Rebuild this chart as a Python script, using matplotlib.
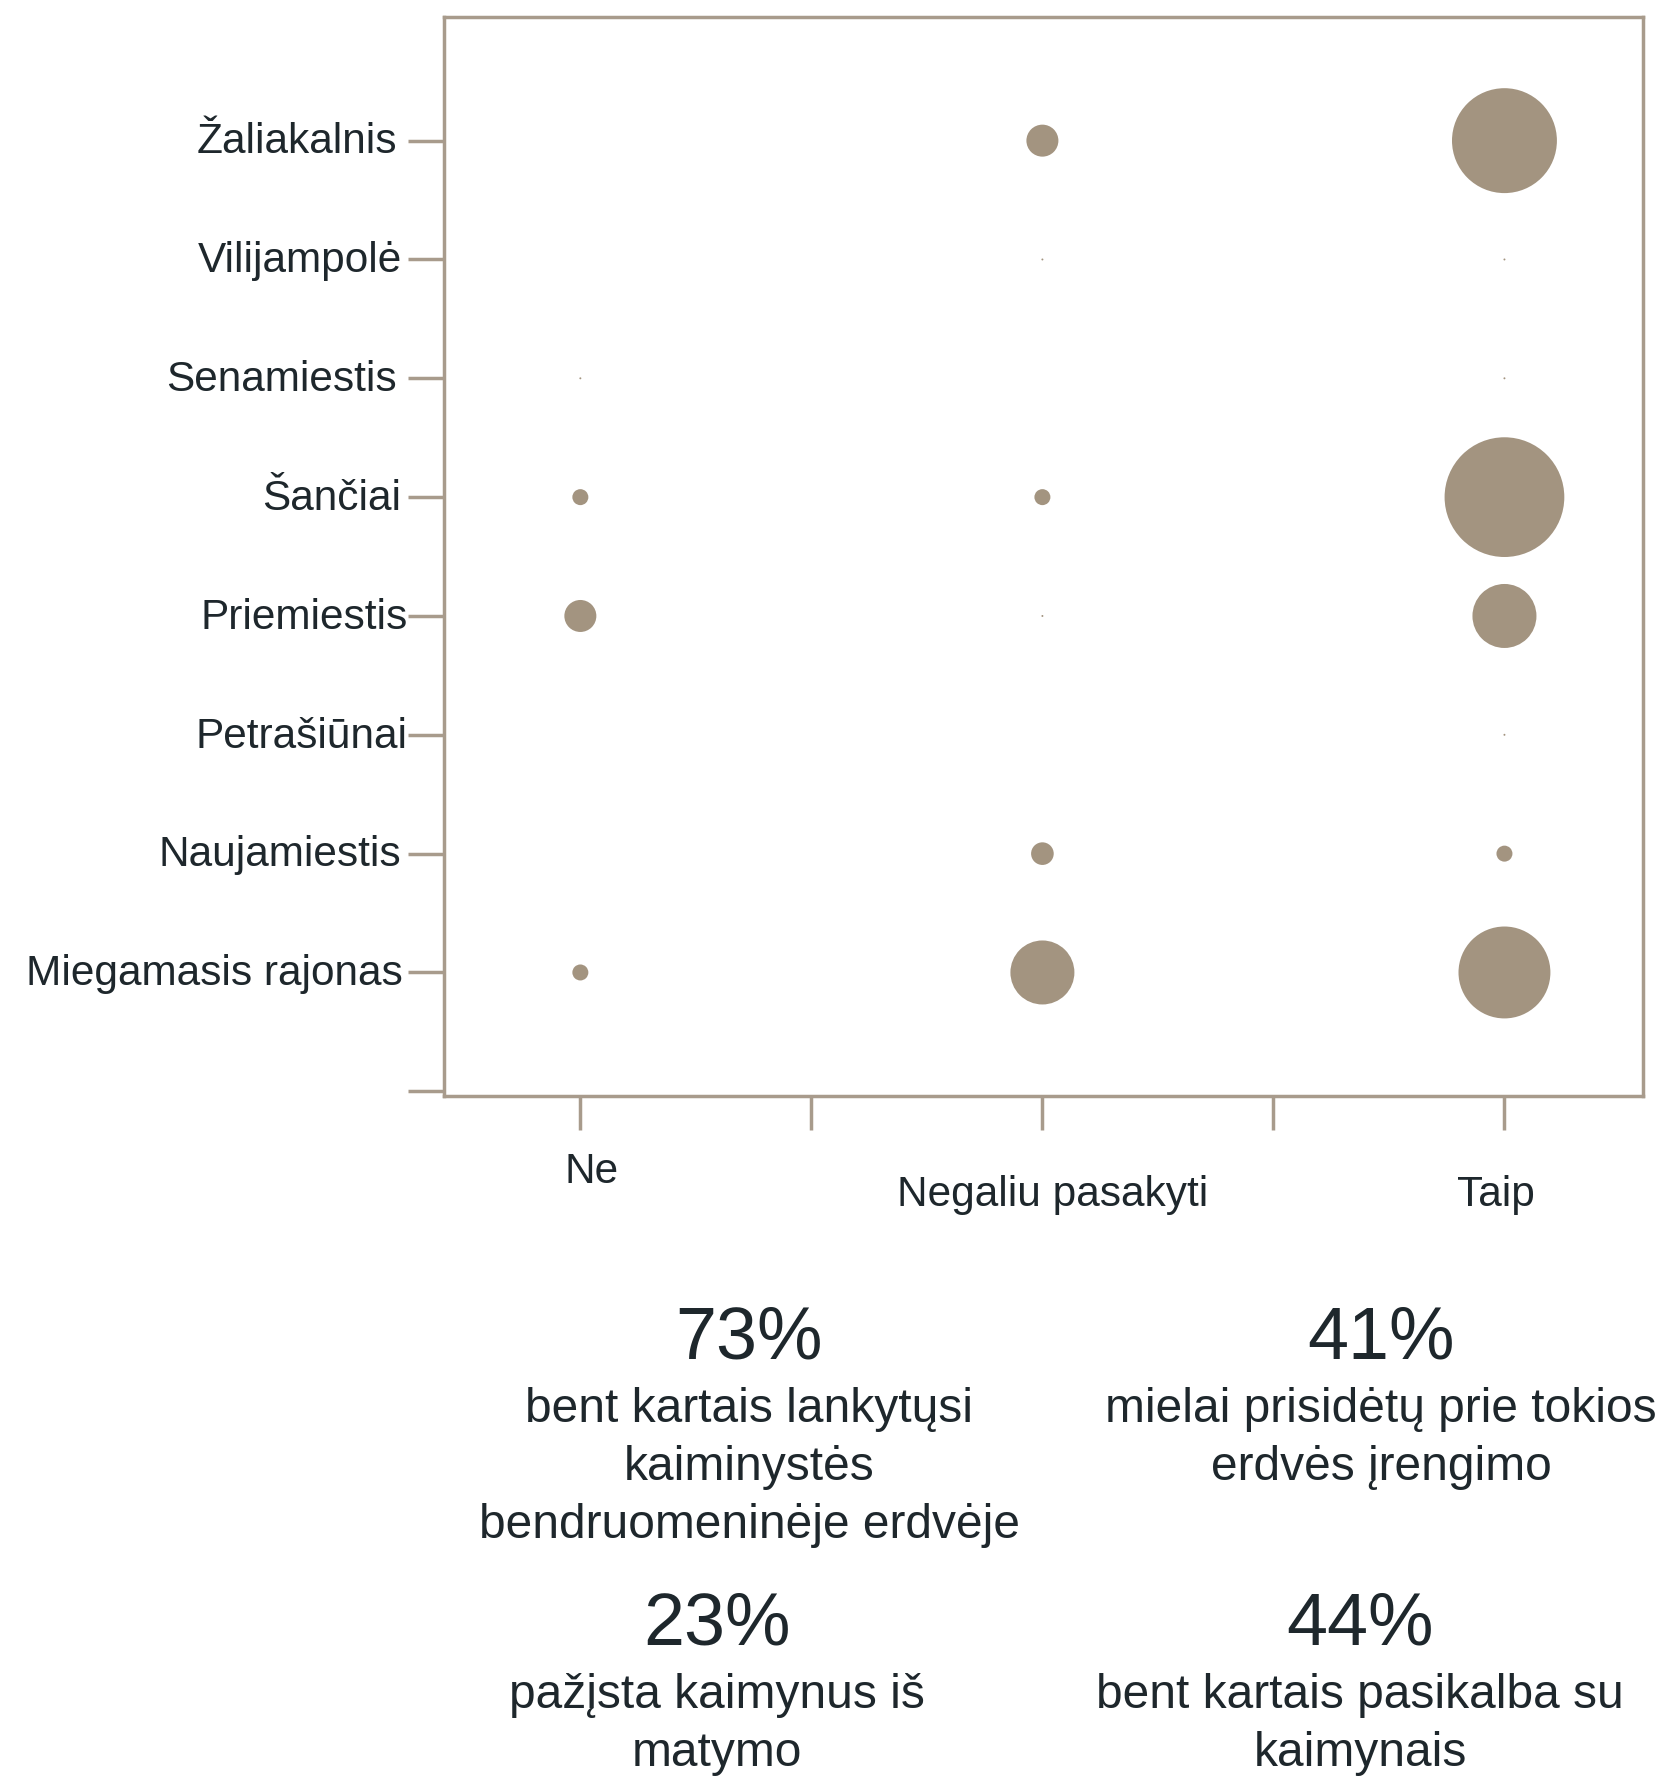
import numpy as np
import matplotlib
matplotlib.use('Agg')
import matplotlib.pyplot as plt
from matplotlib.transforms import ScaledTranslation

plt.rcParams['font.family'] = ['Liberation Sans', 'DejaVu Sans']

# data
districts = ['Žaliakalnis', 'Vilijampolė', 'Senamiestis', 'Šančiai',
             'Priemiestis', 'Petrašiūnai', 'Naujamiestis', 'Miegamasis rajonas']
answers = ['Ne', 'Negaliu pasakyti', 'Taip']
ne = [np.nan, np.nan, 0, 1, 4, np.nan, np.nan, 1]
negaliu = [4, 0, np.nan, 1, 0, np.nan, 2, 16]
taip = [43, 0, 0, 56, 16, 0, 1, 33]

stat_values = ['73%', '41%', '23%', '44%']
stat_texts = [
    ['bent kartais lankytųsi', 'kaiminystės', 'bendruomeninėje erdvėje'],
    ['mielai prisidėtų prie tokios', 'erdvės įrengimo'],
    ['pažįsta kaimynus iš', 'matymo'],
    ['bent kartais pasikalba su', 'kaimynais'],
]

dot_color = '#a39480'
line_color = '#a89b8c'
text_color = '#1e272c'

fig = plt.figure(figsize=(16.6, 17.77), dpi=100)
ax = fig.add_axes([0.2675, 0.3832, 0.7223, 0.6072])

ypos = np.arange(len(districts), 0, -1)
for xi, series in zip([0, 2, 4], [ne, negaliu, taip]):
    vals = np.array(series, dtype=float)
    mask = ~np.isnan(vals)
    sizes = np.where(vals[mask] > 0, 132.7 * vals[mask], 2)
    ax.scatter(np.full(mask.sum(), xi), ypos[mask], s=sizes,
               color=dot_color, edgecolors='none', zorder=3)

ax.set_xlim(-0.59, 4.6)
ax.set_ylim(-0.04, 9.04)

ax.set_yticks(list(ypos) + [0])
ax.set_yticklabels(districts + [''])
ax.set_xticks([0, 1, 2, 3, 4])
ax.set_xticklabels(['Ne', '', 'Negaliu pasakyti', '', 'Taip'])

for s in ax.spines.values():
    s.set_color(line_color)
    s.set_linewidth(2.5)
ax.tick_params(axis='y', length=26, width=2.5, color=line_color, pad=6,
               labelsize=30.5, labelcolor=text_color)
ax.tick_params(axis='x', length=24.5, width=2.5, color=line_color, pad=32,
               labelsize=30.5, labelcolor=text_color)

# small per-label shifts like the original (points)
shifts = [(8, 16), (0, 0), (7, 0), (0, 0), (-6, 0)]
for lab, (dx, dy) in zip(ax.get_xticklabels(), shifts):
    lab.set_transform(lab.get_transform() +
                      ScaledTranslation(dx / 72, dy / 72, fig.dpi_scale_trans))
yshifts = [-2, 2, -2, 1, 6, 6, 1, 2, 0]
for lab, dx in zip(ax.get_yticklabels(), yshifts):
    lab.set_transform(lab.get_transform() +
                      ScaledTranslation(dx / 72, 2 / 72, fig.dpi_scale_trans))

# summary figures below the chart
centers = [(749, 1339), (1381, 1339), (717, 1625), (1360, 1625)]
W, H = 1660, 1777
for (cx, cy), val, lines in zip(centers, stat_values, stat_texts):
    fig.text(cx / W, 1 - cy / H, val, fontsize=53, color=text_color,
             ha='center', va='center')
    for i, line in enumerate(lines):
        fig.text(cx / W, 1 - (cy + 71 + 57.5 * i) / H, line, fontsize=34.5,
                 color=text_color, ha='center', va='center')

plt.savefig('out.png', dpi=100)
